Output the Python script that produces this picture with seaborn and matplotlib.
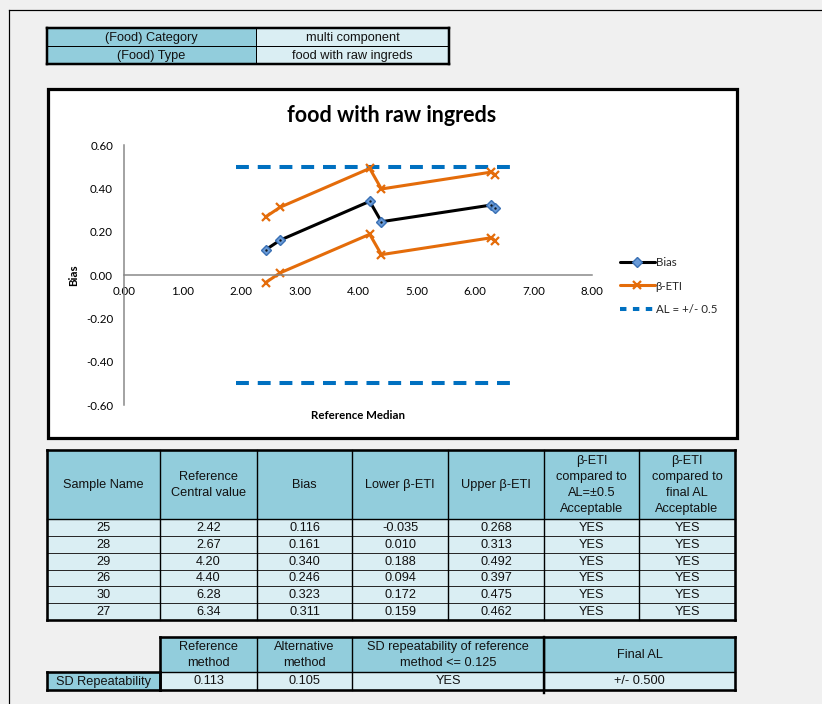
import matplotlib
matplotlib.use("Agg")
import matplotlib.pyplot as plt
import seaborn as sns
from matplotlib.patches import Rectangle
from matplotlib.lines import Line2D

# ---------------------------------------------------------------- data
food_category = "multi component"
food_type = "food with raw ingreds"

sample_names = ["25", "28", "29", "26", "30", "27"]
ref_central = [2.42, 2.67, 4.20, 4.40, 6.28, 6.34]
bias = [0.116, 0.161, 0.340, 0.246, 0.323, 0.311]
lower_eti = [-0.035, 0.010, 0.188, 0.094, 0.172, 0.159]
upper_eti = [0.268, 0.313, 0.492, 0.397, 0.475, 0.462]
accept_al = ["YES", "YES", "YES", "YES", "YES", "YES"]
accept_final = ["YES", "YES", "YES", "YES", "YES", "YES"]

al_limit = 0.5
al_x_range = [1.92, 6.74]

x_ticks = [0, 1, 2, 3, 4, 5, 6, 7, 8]
y_ticks = [-0.6, -0.4, -0.2, 0.0, 0.2, 0.4, 0.6]

sd_rep_reference = 0.113
sd_rep_alternative = 0.105
sd_rep_ok = "YES"
final_al = 0.5

table_headers = ["Sample Name", "Reference\nCentral value", "Bias",
                 "Lower β-ETI", "Upper β-ETI",
                 "β-ETI\ncompared to\nAL=±0.5\nAcceptable",
                 "β-ETI\ncompared to\nfinal AL\nAcceptable"]
sd_headers = ["Reference\nmethod", "Alternative\nmethod",
              "SD repeatability of reference\nmethod <= 0.125", "Final AL"]

# ---------------------------------------------------------------- style
DARK = "#92cddc"
LIGHT = "#daeef3"
ORANGE = "#e46c0a"
BLUE = "#0070c0"
AXIS_GREY = "#868686"
PX = 0.72  # points per pixel at 100 dpi
TABLE_FONT = ["Liberation Sans", "DejaVu Sans"]
CHART_FONT = ["Lato", "DejaVu Sans"]
CHART_SIZE = 8.3

sns.set_theme(style="white")
plt.rcParams["font.family"] = CHART_FONT

W, H = 822, 704
fig = plt.figure(figsize=(W / 100, H / 100), dpi=100, facecolor="#f0f0f0")

# full-page canvas in pixel coordinates for the sheet, tables and chart frame
bg = fig.add_axes([0, 0, 1, 1])
bg.set_xlim(0, W)
bg.set_ylim(H, 0)
bg.axis("off")
bg.set_zorder(0)


def fill(x0, y0, x1, y1, color):
    bg.add_patch(Rectangle((x0, y0), x1 - x0, y1 - y0, fc=color, ec="none", zorder=1))


def hline(y, x0, x1, lw=1.0, color="black"):
    bg.plot([x0, x1], [y, y], color=color, lw=lw * PX, solid_capstyle="projecting", zorder=3)


def vline(x, y0, y1, lw=1.0, color="black"):
    bg.plot([x, x], [y0, y1], color=color, lw=lw * PX, solid_capstyle="projecting", zorder=3)


def box(x0, y0, x1, y1, lw=2.5):
    hline(y0, x0, x1, lw)
    hline(y1, x0, x1, lw)
    vline(x0, y0, y1, lw)
    vline(x1, y0, y1, lw)


def cell_text(x0, y0, x1, y1, s, size=9.2):
    bg.text((x0 + x1) / 2, (y0 + y1) / 2 + 0.5, s, ha="center", va="center",
            fontsize=size, family=TABLE_FONT, color="#111111",
            linespacing=1.42, zorder=4)


# sheet border
hline(10, 9, W, 1.2)
vline(9, 10, H, 1.2)

# ---------------------------------------------------------------- top info table
tx = [47, 256, 449]
ty = [28, 46, 64]
for r, (lab, val) in enumerate([("(Food) Category", food_category), ("(Food) Type", food_type)]):
    fill(tx[0], ty[r], tx[1], ty[r + 1], DARK)
    fill(tx[1], ty[r], tx[2], ty[r + 1], LIGHT)
    cell_text(tx[0], ty[r], tx[1], ty[r + 1], lab)
    cell_text(tx[1], ty[r], tx[2], ty[r + 1], val)
hline(ty[1], tx[0], tx[2], 1.0)
vline(tx[1], ty[0], ty[2], 1.0)
box(tx[0], ty[0], tx[2], ty[2], 2.5)

# ---------------------------------------------------------------- chart frame
bg.add_patch(Rectangle((48, 89), 689, 349, fc="white", ec="black", lw=3.2 * PX, zorder=1))
bg.text(392, 115, food_type, ha="center", va="center", fontsize=15.5,
        fontweight="bold", family=CHART_FONT, color="black", zorder=4)

# ---------------------------------------------------------------- chart
ax = fig.add_axes([124 / W, 1 - 405 / H, 468 / W, 260 / H])
ax.set_zorder(2)
ax.patch.set_alpha(0)

sns.lineplot(x=al_x_range, y=[al_limit, al_limit], ax=ax, color=BLUE,
             linewidth=2.9, linestyle=(0, (3.2, 2.2)), errorbar=None)
sns.lineplot(x=al_x_range, y=[-al_limit, -al_limit], ax=ax, color=BLUE,
             linewidth=2.9, linestyle=(0, (3.2, 2.2)), errorbar=None)

eti_style = dict(color=ORANGE, linewidth=2.2, marker="x", markersize=6,
                 markeredgewidth=1.6, markeredgecolor=ORANGE, errorbar=None)
sns.lineplot(x=ref_central, y=upper_eti, ax=ax, **eti_style)
sns.lineplot(x=ref_central, y=lower_eti, ax=ax, **eti_style)

bias_style = dict(color="black", linewidth=2.2, marker="D", markersize=4.6,
                  markerfacecolor="#6a9bd8", markeredgecolor="#3a70b4",
                  markeredgewidth=1.0)
sns.lineplot(x=ref_central, y=bias, ax=ax, errorbar=None, **bias_style)
# dark centre dot on each bias marker
sns.scatterplot(x=ref_central, y=bias, ax=ax, color="#101820", s=3,
                linewidth=0, zorder=5)

ax.set_xlim(x_ticks[0], x_ticks[-1])
ax.set_ylim(y_ticks[0], y_ticks[-1])
ax.set_xticks(x_ticks)
ax.set_xticklabels([f"{v:.2f}" for v in x_ticks])
ax.set_yticks(y_ticks)
ax.set_yticklabels([f"{v:.2f}" for v in y_ticks])

for side in ("top", "right"):
    ax.spines[side].set_visible(False)
ax.spines["bottom"].set_position(("data", 0))
for side in ("left", "bottom"):
    ax.spines[side].set_color(AXIS_GREY)
    ax.spines[side].set_linewidth(1.5 * PX)
ax.tick_params(axis="both", direction="out", length=4 * PX, width=1.5 * PX,
               color=AXIS_GREY, labelsize=CHART_SIZE, labelcolor="black", pad=5)
ax.grid(False)

ax.set_xlabel("Reference Median", fontsize=CHART_SIZE, fontweight="bold", color="black")
ax.xaxis.set_label_coords(0.5, -0.018)
ax.set_ylabel("Bias", fontsize=CHART_SIZE, fontweight="bold", color="black")
ax.yaxis.set_label_coords(-0.095, 0.5)

handles = [
    Line2D([], [], **{k: v for k, v in bias_style.items()}),
    Line2D([], [], color=ORANGE, linewidth=2.2, marker="x", markersize=6,
           markeredgewidth=1.6),
    Line2D([], [], color=BLUE, linewidth=2.9, linestyle=(0, (1.6, 1.6))),
]
ax.legend(handles, ["Bias", "β-ETI", "AL = +/- 0.5"], loc="center left",
          bbox_to_anchor=(620 / W, 1 - 286 / H), bbox_transform=fig.transFigure,
          frameon=False, handlelength=3.0, handletextpad=0.1,
          labelspacing=1.1, borderpad=0, borderaxespad=0,
          prop={"family": CHART_FONT, "size": CHART_SIZE})

# ---------------------------------------------------------------- results table
cx = [47, 160, 257, 352, 448, 544, 639, 735]
row_h = (620 - 519) / len(sample_names)
cy = [450, 519] + [519 + row_h * (i + 1) for i in range(len(sample_names))]

for c, head in enumerate(table_headers):
    fill(cx[c], cy[0], cx[c + 1], cy[1], DARK)
    cell_text(cx[c], cy[0], cx[c + 1], cy[1], head)

rows = []
for i in range(len(sample_names)):
    rows.append([sample_names[i], f"{ref_central[i]:.2f}", f"{bias[i]:.3f}",
                 f"{lower_eti[i]:.3f}", f"{upper_eti[i]:.3f}",
                 accept_al[i], accept_final[i]])
for r, vals in enumerate(rows):
    for c, v in enumerate(vals):
        fill(cx[c], cy[r + 1], cx[c + 1], cy[r + 2], LIGHT)
        cell_text(cx[c], cy[r + 1], cx[c + 1], cy[r + 2], v)

hline(cy[1], cx[0], cx[-1], 1.4)
for y in cy[2:-1]:
    hline(y, cx[0], cx[-1], 1.0, color="#2a2a2a")
for x in cx[1:-1]:
    vline(x, cy[0], cy[-1], 1.4)
box(cx[0], cy[0], cx[-1], cy[-1], 2.6)

# ---------------------------------------------------------------- SD repeatability table
sx = [160, 257, 352, 544, 735]
sy = [637, 672, 690]
for c, head in enumerate(sd_headers):
    fill(sx[c], sy[0], sx[c + 1], sy[1], DARK)
    cell_text(sx[c], sy[0], sx[c + 1], sy[1], head)
sd_values = [f"{sd_rep_reference:.3f}", f"{sd_rep_alternative:.3f}", sd_rep_ok,
             f"+/- {final_al:.3f}"]
for c, v in enumerate(sd_values):
    fill(sx[c], sy[1], sx[c + 1], sy[2], LIGHT)
    cell_text(sx[c], sy[1], sx[c + 1], sy[2], v)
fill(47, sy[1], sx[0], sy[2], DARK)
cell_text(47, sy[1], sx[0], sy[2], "SD Repeatability")

hline(sy[1], sx[0], sx[-1], 1.4)
for x in sx[1:-1]:
    vline(x, sy[0], sy[2], 1.4)
vline(sx[3], sy[0], sy[2] + 3, 2.4)
box(sx[0], sy[0], sx[-1], sy[2], 2.6)
box(47, sy[1], sx[0], sy[2], 2.6)

fig.savefig("out.png", dpi=100, facecolor=fig.get_facecolor())
